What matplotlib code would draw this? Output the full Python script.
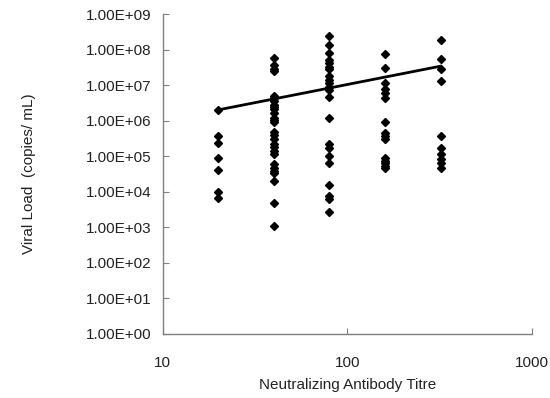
import matplotlib.pyplot as plt
import numpy as np
from matplotlib.ticker import FixedLocator, FuncFormatter

plt.rcParams['font.family'] = ['Liberation Sans', 'DejaVu Sans']
plt.rcParams['font.size'] = 11

# log10 viral load, one list per titre
titres = [20, 40, 80, 160, 320]
load_20 = [6.31, 5.56, 5.38, 4.95, 4.63, 3.99, 3.84]
load_40 = [7.77, 7.56, 7.47, 7.39,
           6.69, 6.63, 6.55, 6.46, 6.38, 6.32, 6.22, 6.08, 6.02, 5.96,
           5.68, 5.59, 5.50, 5.36, 5.27, 5.15, 5.08,
           4.78, 4.68, 4.59, 4.52, 4.31, 3.68, 3.03]
load_80 = [8.40, 8.14, 7.91, 7.72, 7.63, 7.53, 7.46, 7.25, 7.16, 7.07,
           6.96, 6.88, 6.66, 6.07, 5.34, 5.24, 5.01, 4.82, 4.19, 3.89,
           3.79, 3.42]
load_160 = [7.89, 7.50, 7.07, 6.90, 6.79, 6.64, 5.97, 5.66, 5.57, 5.48,
            4.96, 4.87, 4.80, 4.73, 4.68]
load_320 = [8.27, 7.73, 7.45, 7.13, 5.58, 5.23, 5.08, 4.94, 4.80, 4.66]
loads = [load_20, load_40, load_80, load_160, load_320]

# trend line ends
trend_x = [20, 320]
trend_y = [10**6.31, 10**7.54]

fig = plt.figure(figsize=(5.5, 3.98), dpi=100)
ax = fig.add_axes([0.296, 0.161, 0.671, 0.803])

for t, vals in zip(titres, loads):
    ax.plot([t] * len(vals), 10 ** np.array(vals), linestyle='none',
            marker='D', markersize=4.5, color='black', zorder=3)

ax.plot(trend_x, trend_y, color='black', linewidth=2, zorder=2)

ax.set_xscale('log')
ax.set_yscale('log')
ax.set_xlim(10, 1000)
ax.set_ylim(1, 1e9)

ax.yaxis.set_major_locator(FixedLocator([10.0 ** k for k in range(10)]))
ax.yaxis.set_minor_locator(FixedLocator([]))
ax.xaxis.set_major_locator(FixedLocator([10, 100, 1000]))
ax.xaxis.set_minor_locator(FixedLocator([]))
ax.yaxis.set_major_formatter(FuncFormatter(lambda v, p: '%.2E' % v))
ax.xaxis.set_major_formatter(FuncFormatter(lambda v, p: '%d' % v))

for s in ['top', 'right']:
    ax.spines[s].set_visible(False)
for s in ['left', 'bottom']:
    ax.spines[s].set_color('#808080')
    ax.spines[s].set_linewidth(1.0)

ax.tick_params(axis='both', direction='in', length=4, color='#808080',
               labelcolor='#222222')
ax.tick_params(axis='y', pad=8)
ax.tick_params(axis='x', pad=16)

ax.set_xlabel('Neutralizing Antibody Titre', labelpad=6, color='#222222')
ax.set_ylabel('Viral Load  (copies/ mL)', labelpad=36, color='#222222')

fig.savefig('out.png', dpi=100)
